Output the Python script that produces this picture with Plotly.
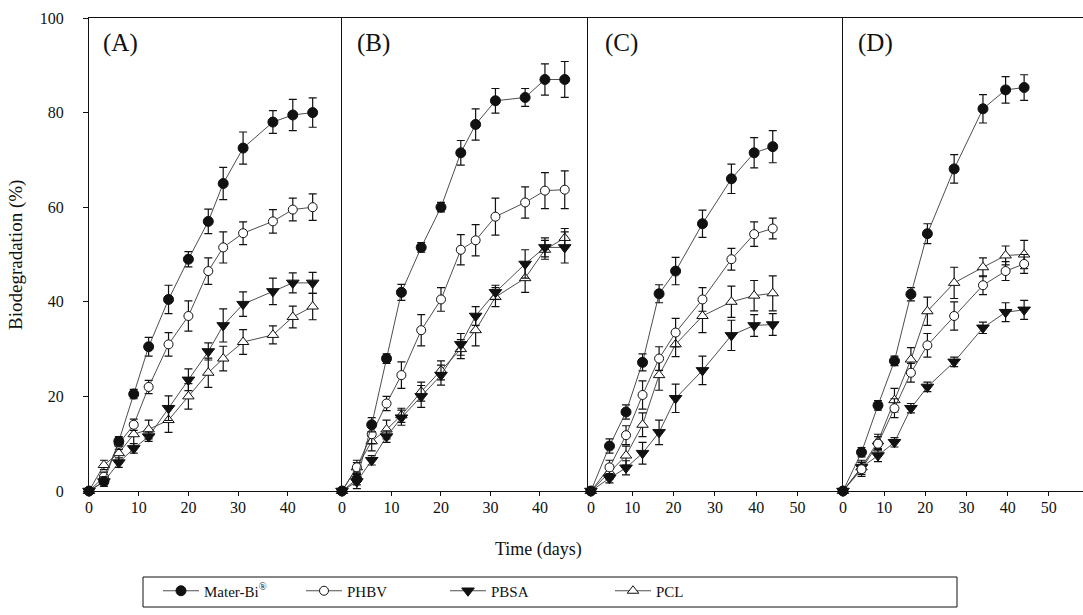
import plotly.graph_objects as go

# ---------------- data ----------------
days_ab = [0, 3, 6, 9, 12, 16, 20, 24, 27, 31, 37, 41, 45]
days_cd = [0, 4.5, 8.5, 12.5, 16.5, 20.5, 27, 34, 39.5, 44]

series_names = ["Mater-Bi<sup>®</sup>", "PHBV", "PBSA", "PCL"]
panel_labels = ["(A)", "(B)", "(C)", "(D)"]

# Panel A
materbi_A = [0, 2, 10.5, 20.5, 30.5, 40.5, 49, 57, 65, 72.5, 78, 79.5, 80]
materbi_A_err = [0, 1, 1, 1, 2, 3, 1.6, 2.6, 3.4, 3.4, 2.4, 3.3, 3.1]
phbv_A = [0, 3, 10, 14, 22, 31, 37, 46.5, 51.5, 54.5, 57, 59.5, 60]
phbv_A_err = [0, 1, 1.2, 1.2, 1.4, 2.5, 3.2, 2.8, 3.3, 2.4, 2.5, 2.4, 2.8]
pbsa_A = [0, 2, 6, 9, 11.5, 17.5, 23.5, 29.5, 35, 39.5, 42.2, 44, 44]
pbsa_A_err = [0, 1, 1, 1, 1, 2.6, 2.3, 1.8, 3.5, 2.6, 2.8, 2.1, 2.2]
pcl_A = [0, 5.5, 8, 12, 13, 15, 20, 25, 28, 31.5, 33, 36.8, 39]
pcl_A_err = [0, 1, 1.5, 2.5, 2, 2.6, 2.7, 3.1, 2.6, 2.6, 1.9, 2.3, 2.8]

# Panel B
materbi_B = [0, 2.5, 14, 28, 42, 51.5, 60, 71.5, 77.5, 82.5, 83.2, 87, 87]
materbi_B_err = [0, 1.2, 1.5, 1, 1.7, 1, 1, 2.6, 3.3, 2.6, 1.9, 3.3, 3.8]
phbv_B = [0, 5, 12, 18.5, 24.5, 34, 40.5, 51, 53, 58, 61, 63.5, 63.7]
phbv_B_err = [0, 1, 2, 1.5, 2.8, 3.3, 2.5, 3.2, 3.3, 3.9, 3.3, 3.8, 4]
pbsa_B = [0, 2, 6.5, 11.5, 15.5, 20, 24.5, 31, 37, 42, 48, 51.5, 51.5]
pbsa_B_err = [0, 1.5, 1, 1.2, 1.6, 2.3, 2.1, 2.3, 2, 1.5, 3, 2, 3.3]
pcl_B = [0, 5, 10.5, 13, 16, 21, 25.5, 30, 34, 41, 45, 51, 53.5]
pcl_B_err = [0, 1.5, 2, 2, 1.5, 2, 2, 2, 3.3, 2, 3, 2, 2]

# Panel C
materbi_C = [0, 9.5, 16.7, 27.2, 41.7, 46.5, 56.5, 66, 71.5, 72.8]
materbi_C_err = [0, 1.5, 1.5, 1.8, 1.9, 2.9, 2.9, 3.1, 3.2, 3.4]
phbv_C = [0, 5, 11.8, 20.3, 28, 33.5, 40.5, 49, 54.3, 55.5]
phbv_C_err = [0, 1.5, 2, 3, 2.5, 3, 2.5, 2.3, 2.6, 2.2]
pbsa_C = [0, 2.7, 4.9, 8, 12.4, 19.6, 25.5, 32.9, 35, 35.2]
pbsa_C_err = [0, 1, 1.5, 2.3, 2.6, 3, 3, 3.2, 2.3, 2.3]
pcl_C = [0, 4, 7.5, 14, 24.5, 31, 37, 40, 41.3, 41.8]
pcl_C_err = [0, 1.5, 2, 2.5, 3.2, 2.6, 3.5, 3.3, 3.2, 3.7]

# Panel D
materbi_D = [0, 8.2, 18.1, 27.5, 41.6, 54.4, 68.1, 80.8, 84.8, 85.3]
materbi_D_err = [0, 1, 1, 1, 1.4, 2.1, 3, 3, 2.8, 2.7]
phbv_D = [0, 4.6, 10, 17.5, 25, 30.8, 37, 43.5, 46.5, 48]
phbv_D_err = [0, 1.5, 1.5, 2, 2, 2.5, 3, 2, 2, 2]
pbsa_D = [0, 5, 7.5, 10.3, 17.5, 22, 27.3, 34.5, 37.8, 38.3]
pbsa_D_err = [0, 1, 1.3, 1, 1, 1, 1, 1.2, 2, 2]
pcl_D = [0, 5, 10.5, 19.2, 27.8, 38, 44, 47.3, 49.8, 50]
pcl_D_err = [0, 1.5, 1.5, 2.5, 2.5, 3, 3.3, 2, 2, 3]

x_ticks_ab = [0, 10, 20, 30, 40]
x_ticks_cd = [0, 10, 20, 30, 40, 50]
y_ticks = [0, 20, 40, 60, 80, 100]

panels = [
    (days_ab, [(materbi_A, materbi_A_err), (phbv_A, phbv_A_err), (pbsa_A, pbsa_A_err), (pcl_A, pcl_A_err)]),
    (days_ab, [(materbi_B, materbi_B_err), (phbv_B, phbv_B_err), (pbsa_B, pbsa_B_err), (pcl_B, pcl_B_err)]),
    (days_cd, [(materbi_C, materbi_C_err), (phbv_C, phbv_C_err), (pbsa_C, pbsa_C_err), (pcl_C, pcl_C_err)]),
    (days_cd, [(materbi_D, materbi_D_err), (phbv_D, phbv_D_err), (pbsa_D, pbsa_D_err), (pcl_D, pcl_D_err)]),
]

# ---------------- styling ----------------
W, H = 1083, 615
ML, MR, MT, MB = 89, 0, 18, 124
PW = W - ML - MR
PH = H - MT - MB
FONT = "Liberation Serif, Times New Roman, serif"
INK = "#111111"

panel_px = [(89, 342), (342, 588), (588, 843), (843, 1083)]
x_ranges = [[0, 50.9], [0, 49.7], [-0.7, 61], [0, 58.3]]
x_tickvals = [x_ticks_ab, x_ticks_ab, x_ticks_cd, x_ticks_cd]

marker_styles = [
    dict(symbol="circle", size=10, color=INK, line=dict(color=INK, width=1)),
    dict(symbol="circle", size=9, color="white", line=dict(color=INK, width=1)),
    dict(symbol="triangle-down", size=11, color=INK, line=dict(color=INK, width=1)),
    dict(symbol="triangle-up", size=10, color="white", line=dict(color=INK, width=1)),
]

legend_pos = [158, 301, 445, 610]  # pixel x of each legend entry start

fig = go.Figure()
for p, (days, series) in enumerate(panels):
    xa = "x" if p == 0 else f"x{p+1}"
    ya = "y" if p == 0 else f"y{p+1}"
    for s in [3, 2, 1, 0]:
        vals, errs = series[s]
        fig.add_trace(go.Scatter(
            x=days, y=vals, xaxis=xa, yaxis=ya,
            mode="lines+markers",
            name=series_names[s],
            line=dict(color="#3a3a3a", width=0.9),
            marker=marker_styles[s],
            error_y=dict(type="data", array=errs, visible=True, color=INK,
                         thickness=1.2, width=4),
            cliponaxis=False,
            showlegend=(p == 0),
            legend="legend" if s == 0 else f"legend{s+1}",
        ))

layout = dict(
    width=W, height=H,
    margin=dict(l=ML, r=MR, t=MT, b=MB),
    paper_bgcolor="white", plot_bgcolor="white",
    font=dict(family=FONT, size=15, color=INK),
    showlegend=True,
)

for p in range(4):
    x0, x1 = panel_px[p]
    dom = [(x0 - ML) / PW, (x1 - ML) / PW]
    xk = "xaxis" if p == 0 else f"xaxis{p+1}"
    yk = "yaxis" if p == 0 else f"yaxis{p+1}"
    ya = "y" if p == 0 else f"y{p+1}"
    xa = "x" if p == 0 else f"x{p+1}"
    layout[xk] = dict(
        domain=dom, range=x_ranges[p], anchor=ya,
        tickvals=x_tickvals[p], ticktext=[str(v) for v in x_tickvals[p]],
        showline=True, linecolor=INK, linewidth=1, mirror=True,
        ticks="outside", ticklen=4, tickcolor=INK, tickwidth=1,
        ticklabelstandoff=-2,
        showgrid=False, zeroline=False,
        tickfont=dict(family=FONT, size=16, color=INK),
    )
    ycfg = dict(
        domain=[0, 1], range=[0, 100], anchor=xa,
        showline=True, linecolor=INK, linewidth=1, mirror=False,
        showgrid=False, zeroline=False,
    )
    if p == 0:
        ycfg.update(tickvals=y_ticks, ticks="outside", ticklen=5, tickcolor=INK,
                    tickwidth=1, ticklabelstandoff=16,
                    tickfont=dict(family=FONT, size=16, color=INK))
    else:
        ycfg.update(showticklabels=False, ticks="")
    layout[yk] = ycfg

legend_y_px = 591
for s in range(4):
    key = "legend" if s == 0 else f"legend{s+1}"
    layout[key] = dict(
        x=legend_pos[s] / W, y=1 - legend_y_px / H,
        xref="container", yref="container",
        xanchor="left", yanchor="middle",
        orientation="h", bgcolor="rgba(0,0,0,0)", borderwidth=0,
        font=dict(family=FONT, size=15, color=INK),
        itemwidth=36,
    )

fig.update_layout(**layout)

def px_x(px):
    return (px - ML) / PW

def px_y(py):
    return (MT + PH - py) / PH

fig.add_shape(type="rect", xref="paper", yref="paper",
              x0=px_x(143), x1=px_x(957), y0=px_y(607), y1=px_y(577),
              line=dict(color=INK, width=1), fillcolor="rgba(0,0,0,0)", layer="below")

label_offsets = [12, 13, 15, 13]
for p in range(4):
    fig.add_annotation(text=panel_labels[p], xref="paper", yref="paper",
                       x=px_x(panel_px[p][0] + label_offsets[p]), y=px_y(43),
                       xanchor="left", yanchor="middle", showarrow=False,
                       font=dict(family=FONT, size=25, color=INK))

fig.add_annotation(text="Time (days)", xref="paper", yref="paper",
                   x=px_x(538), y=px_y(549), xanchor="center", yanchor="middle",
                   showarrow=False, font=dict(family=FONT, size=18, color=INK))
fig.add_annotation(text="Biodegradation (%)", xref="paper", yref="paper",
                   x=px_x(16), y=px_y(255), xanchor="center", yanchor="middle",
                   textangle=-90, showarrow=False,
                   font=dict(family=FONT, size=19, color=INK))

fig.write_html("out.html", config={"displayModeBar": False},
               post_script="document.body.style.margin='0px';document.body.style.overflow='hidden';")
